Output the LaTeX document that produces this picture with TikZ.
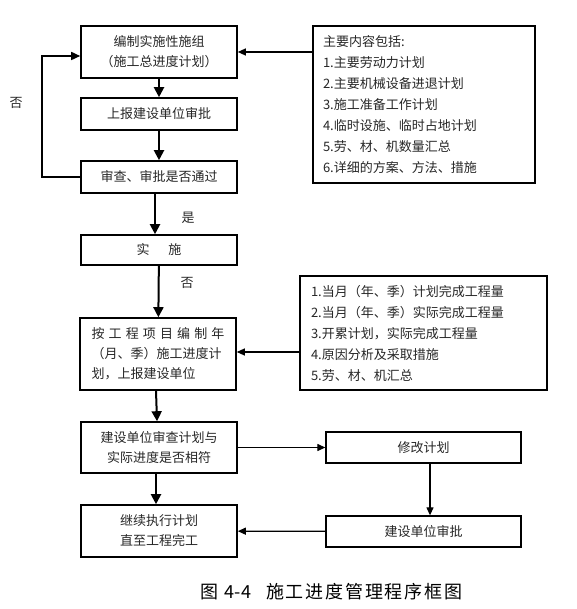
\documentclass[tikz,border=0pt]{standalone}
\usepackage{fontspec}
\setmainfont{Noto Sans CJK SC}
\usetikzlibrary{positioning,arrows.meta,calc}

\begin{document}
\begin{tikzpicture}[x=1pt, y=-1pt, font=\fontsize{13}{20}\selectfont,
        box/.style={draw, line width=1.6pt, align=center, minimum width=156pt,
                    inner sep=2pt, text=black!85},
        side/.style={box, minimum width=195pt, minimum height=31pt, line width=1.3pt},
        list/.style={draw, line width=1.6pt, align=left, inner xsep=10pt,
                     text=black!85, font=\fontsize{13}{21}\selectfont},
        flow/.style={line width=2pt, -{Triangle[length=10pt,width=10pt]}},
        feed/.style={line width=1.2pt, -{Triangle[length=8pt,width=7pt]}}]
        \useasboundingbox (0,0) rectangle (576,609);

        \node[box, minimum height=52pt] (plan) at (159,52) {编制实施性施组\\（施工总进度计划）};
        \node[box, minimum height=32pt] (report) at (159,114) {上报建设单位审批};
        \node[box, minimum height=32pt] (check) at (159,177) {审查、审批是否通过};
        \node[box, minimum height=30pt] (impl) at (159,250) {实\hspace{19pt}施};
        \node[box, minimum height=72pt, text width=133pt, align=left] (yearplan) at (158,354)
            {\hbox to 133pt{按\hfill 工\hfill 程\hfill 项\hfill 目\hfill 编\hfill 制\hfill 年}\\
             （月、季）施工进度计\\划，上报建设单位};
        \node[box, minimum height=51pt] (compare) at (159,447.5) {建设单位审查计划与\\实际进度是否相符};
        \node[box, minimum height=52pt] (goon) at (159,531) {继续执行计划\\直至工程完工};
        \node[side] (revise) at (423.5,447.5) {修改计划};
        \node[side] (approve) at (423.5,531.5) {建设单位审批};

        \node[list, minimum width=222pt, minimum height=157pt, text width=202pt] (contents) at (424,104.5)
            {主要内容包括:\\1.主要劳动力计划\\2.主要机械设备进退计划\\3.施工准备工作计划\\
             4.临时设施、临时占地计划\\5.劳、材、机数量汇总\\6.详细的方案、方法、措施};
        \node[list, minimum width=247pt, minimum height=114pt, text width=225pt] (monthly) at (423.5,333)
            {1.当月（年、季）计划完成工程量\\2.当月（年、季）实际完成工程量\\3.开累计划，实际完成工程量\\
             4.原因分析及采取措施\\5.劳、材、机汇总};

        \node[text=black!85] (no1) at (16,103) {否};
        \node[text=black!85] (yes) at (188,218) {是};
        \node[text=black!85] (no2) at (187,283) {否};
        \node[font=\fontsize{18}{20}\selectfont] (caption) at (331.5,592)
            {图\hspace{6pt}4-4\hspace{15pt}{\addfontfeatures{LetterSpace=10}施工进度管理程序框图}};

        \coordinate (back) at (42,177);
        \draw[flow] (plan) -- (report);
        \draw[flow] (report) -- (check);
        \draw[flow] ([xshift=-4pt]check.south) -- ([xshift=-4pt]impl.north);
        \draw[flow] (impl) -- (yearplan);
        \draw[flow] ([xshift=-2pt]yearplan.south) -- ([xshift=-2pt]compare.north);
        \draw[flow] ([xshift=-3pt]compare.south) -- ([xshift=-3pt]goon.north);
        \draw[line width=1.6pt, -{Triangle[length=9pt,width=8pt]}]
            (check.west) -- (back) -- ([yshift=-4pt]plan.west -| back) -- ([yshift=-4pt]plan.west);
        \draw[feed] (contents.west |- plan.east) -- (plan.east);
        \draw[feed] ([yshift=2pt]monthly.west |- yearplan.east) -- ([yshift=2pt]yearplan.east);
        \draw[feed] (compare) -- (revise);
        \draw[feed] ([xshift=6.5pt]revise.south) -- ([xshift=6.5pt]approve.north);
        \draw[feed] (approve) -- (goon);
    \end{tikzpicture}
\end{document}
